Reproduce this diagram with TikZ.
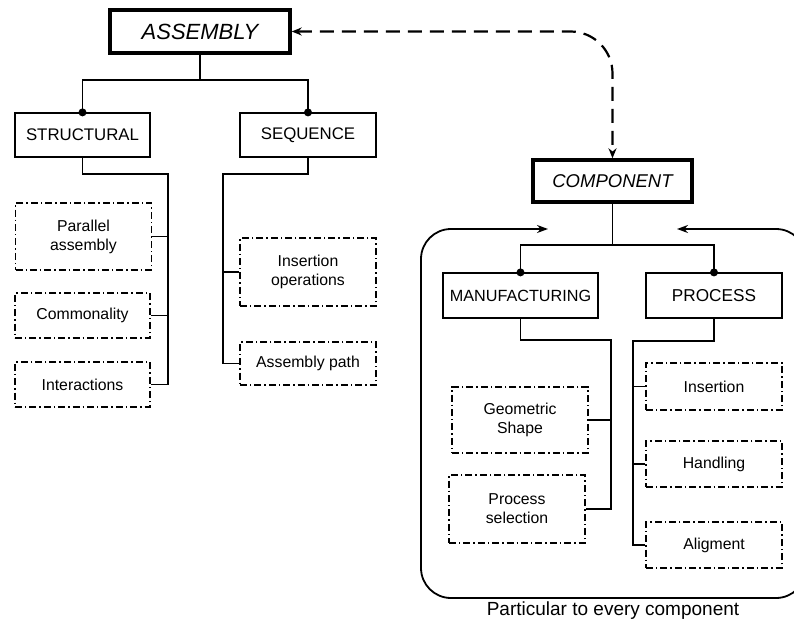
\documentclass[tikz,border=0pt]{standalone}
\usepackage{fontspec}
\setmainfont{Liberation Sans}
\usetikzlibrary{arrows.meta}

\tikzset{
  plainbox/.style={draw, line width=1.2pt, inner sep=0pt, font=\fontsize{16.8}{20}\selectfont},
  mainbox/.style={draw, line width=3.4pt, inner sep=0pt, font=\fontsize{20}{24}\selectfont\itshape},
  leafbox/.style={draw, line width=1.5pt, dash pattern=on 7pt off 3pt on 1.4pt off 3pt,
    inner sep=0pt, align=center, minimum width=136pt, font=\fontsize{15.8}{19}\selectfont},
  link/.style={line width=1.8pt},
  joint/.style={circle, fill, inner sep=0pt, minimum size=8pt},
  relation/.style={line width=2.2pt, dash pattern=on 14pt off 8pt,
    {Stealth[length=10pt,width=8pt]}-{Stealth[length=10pt,width=8pt]}},
  scopeline/.style={line width=1.8pt, {Stealth[length=11pt,width=8pt]}-{Stealth[length=11pt,width=8pt]}}
}

\begin{document}
\begin{tikzpicture}[x=1pt, y=-1pt]
  \clip (0,0) rectangle (794,623);
  \useasboundingbox (0,0) rectangle (794,623);

  % top level
  \node[mainbox, minimum width=180pt, minimum height=43pt, font=\fontsize{22}{26}\selectfont\itshape] (assembly) at (200,31.5) {ASSEMBLY};
  \node[mainbox, minimum width=159pt, minimum height=42pt, font=\fontsize{18.5}{22}\selectfont\itshape] (component) at (612.5,181) {COMPONENT};

  % assembly branches
  \node[plainbox, minimum width=135pt, minimum height=44pt] (struct) at (82.5,135) {STRUCTURAL};
  \node[plainbox, minimum width=136pt, minimum height=44pt] (seq) at (308,135) {SEQUENCE};

  \node[leafbox, minimum height=67pt] (parallel) at (83.5,236.5) {Parallel\\assembly};
  \node[leafbox, minimum width=135pt, minimum height=45pt] (common) at (82.5,315.5) {Commonality};
  \node[leafbox, minimum width=135pt, minimum height=45pt] (interact) at (82.5,384.5) {Interactions};

  \node[leafbox, minimum height=68pt] (insop) at (308,272) {Insertion\\operations};
  \node[leafbox, minimum height=43pt] (path) at (308,363.5) {Assembly path};

  % component branches
  \node[plainbox, minimum width=155pt, minimum height=45pt, font=\fontsize{16.2}{19}\selectfont] (manuf) at (520.5,295.5) {MANUFACTURING};
  \node[plainbox, minimum width=136pt, minimum height=45pt, font=\fontsize{17.2}{20}\selectfont] (process) at (714,295.5) {PROCESS};

  \node[leafbox, minimum height=66pt] (geom) at (520,420) {Geometric\\Shape};
  \node[leafbox, minimum height=68pt] (psel) at (517,509) {Process\\selection};

  \node[leafbox, minimum height=47pt] (ins) at (714,386.5) {Insertion};
  \node[leafbox, minimum height=46pt] (hand) at (714,464) {Handling};
  \node[leafbox, minimum height=46pt] (align) at (714,545) {Aligment};

  % bus points of the trees
  \coordinate (abus) at (200,80);
  \coordinate (sbus) at (168,174);
  \coordinate (qbus) at (223,174);
  \coordinate (cbus) at (612.5,245);
  \coordinate (mbus) at (611,340);
  \coordinate (pbus) at (633,341);

  % assembly tree
  \draw[link] (assembly.south) -- (abus);
  \draw[link] (struct.north) |- (abus) -| (seq.north);
  \node[joint] (jstruct) at (struct.north) {};
  \node[joint] (jseq) at (seq.north) {};

  \draw[link] (struct.south) |- (sbus) -- (sbus |- interact.east) -- (interact.east);
  \draw[link] (parallel.east) -- (parallel.east -| sbus);
  \draw[link] (common.east) -- (common.east -| sbus);

  \draw[link] (seq.south) |- (qbus) -- (qbus |- path.west) -- (path.west);
  \draw[link] (insop.west) -- (insop.west -| qbus);

  % component tree
  \draw[link] (component.south) -- (cbus);
  \draw[link] (manuf.north) |- (cbus) -| (process.north);
  \node[joint] (jmanuf) at (manuf.north) {};
  \node[joint] (jprocess) at (process.north) {};

  \draw[link] (manuf.south) |- (mbus) -- (mbus |- psel.east) -- (psel.east);
  \draw[link] (geom.east) -- (geom.east -| mbus);

  \draw[link] (process.south) |- (pbus) -- (pbus |- align.west) -- (align.west);
  \draw[link] (ins.west) -- (ins.west -| pbus);
  \draw[link] (hand.west) -- (hand.west -| pbus);

  % relation between assembly and component
  \draw[relation, rounded corners=42pt] (assembly.east) -| (component.north);

  % frame of the component-specific part
  \coordinate (fl) at (548,229);
  \coordinate (ftl) at (421,229);
  \coordinate (fbl) at (421,598);
  \coordinate (fbr) at (806,598);
  \coordinate (ftr) at (806,229);
  \coordinate (fr) at (677,229);
  \draw[scopeline, rounded corners=30pt] (fl) -- (ftl) -- (fbl) -- (fbr) -- (ftr) -- (fr);

  \node[font=\fontsize{19}{22}\selectfont] (caption) at (613,611) {Particular to every component};
\end{tikzpicture}
\end{document}
